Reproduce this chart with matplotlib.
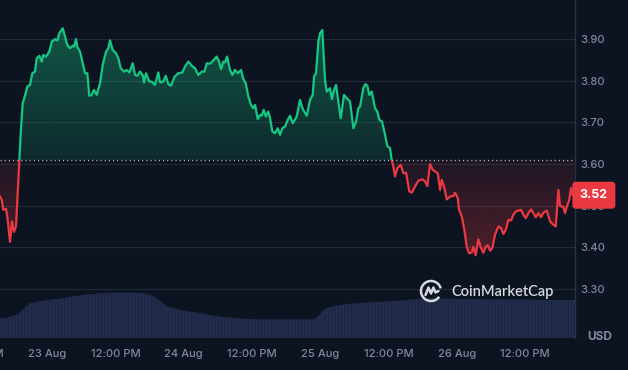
import numpy as np
import matplotlib
matplotlib.use("Agg")
import matplotlib.pyplot as plt
import matplotlib.colors as mcolors
from matplotlib.path import Path
from matplotlib.patches import Rectangle, Arc

plt.rcParams['font.family'] = ['Inter', 'DejaVu Sans']
plt.rcParams['hatch.linewidth'] = 0.6

# hours since 23 Aug 00:00
hours = [-8.26, -7.96, -7.68, -7.20, -6.98, -6.50, -6.15, -5.80, -5.45, -5.04,
         -4.87, -4.62, -4.27, -3.87, -3.46, -2.99, -2.58, -2.11, -1.81, -1.35,
         -0.93, -0.65, -0.18, 0.40, 0.83, 1.41, 1.81, 2.16, 2.76, 3.16,
         3.57, 4.04, 4.52, 4.74, 5.10, 5.32, 5.80, 6.27, 6.68, 7.08,
         7.43, 7.85, 8.26, 8.73, 9.31, 9.79, 10.37, 10.77, 11.07, 11.54,
         12.12, 12.53, 12.95, 13.53, 14.00, 14.46, 15.06, 15.46, 15.87, 16.34,
         16.81, 17.04, 17.39, 17.97, 18.40, 18.98, 19.56, 19.85, 20.43, 20.86,
         21.31, 21.79, 22.37, 23.07, 23.77, 24.25, 24.83, 25.42, 26.00, 26.58,
         27.18, 27.64, 28.06, 28.64, 29.22, 29.82, 30.22, 30.57, 30.98, 31.27,
         31.63, 32.15, 32.56, 33.03, 33.51, 34.09, 34.49, 34.91, 35.37, 35.84,
         36.25, 36.55, 37.02, 37.42, 37.72, 38.07, 38.43, 38.88, 39.18, 39.59,
         40.06, 40.53, 40.94, 41.34, 41.82, 42.29, 42.70, 43.17, 43.87, 44.45,
         44.93, 45.63, 46.21, 46.68, 46.91, 47.26, 47.67, 47.97, 48.37, 48.55,
         48.84, 49.14, 49.72, 50.07, 50.43, 50.78, 51.18, 51.60, 52.18, 52.66,
         53.24, 53.82, 54.29, 54.70, 54.99, 55.57, 55.93, 56.28, 56.63, 57.05,
         57.63, 58.03, 58.39, 58.86, 59.39, 59.79, 60.27, 60.56, 60.85, 61.14,
         61.55, 62.15, 62.60, 63.08, 63.66, 64.08, 64.66, 65.24, 66.01, 66.42,
         66.82, 67.29, 67.77, 68.17, 68.65, 69.05, 69.35, 69.81, 70.23, 70.81,
         71.39, 71.69, 72.16, 72.39, 72.86, 73.32, 73.74, 74.15, 74.62, 74.90,
         75.32, 75.78, 76.25, 76.66, 77.08, 77.43, 77.84, 78.24, 78.71, 79.30,
         79.77, 80.17, 80.60, 81.05, 81.53, 81.93, 82.35, 82.81, 83.28, 83.69,
         84.11, 84.57, 85.04, 85.45, 85.87, 86.33, 86.80, 87.20, 87.80, 88.38,
         88.96, 89.38, 89.84, 90.13, 90.71, 91.01, 91.31, 91.72, 92.07, 92.30,
         92.65]
prices = [3.522, 3.514, 3.490, 3.492, 3.474, 3.413, 3.462, 3.437, 3.450, 3.562,
          3.609, 3.674, 3.746, 3.764, 3.786, 3.790, 3.818, 3.822, 3.854, 3.860,
          3.846, 3.862, 3.858, 3.870, 3.894, 3.900, 3.897, 3.914, 3.926, 3.906,
          3.886, 3.878, 3.884, 3.882, 3.900, 3.882, 3.870, 3.842, 3.818, 3.818,
          3.764, 3.766, 3.778, 3.766, 3.794, 3.838, 3.870, 3.878, 3.897, 3.874,
          3.866, 3.854, 3.830, 3.822, 3.826, 3.820, 3.842, 3.814, 3.812, 3.822,
          3.814, 3.796, 3.818, 3.798, 3.798, 3.790, 3.820, 3.796, 3.798, 3.812,
          3.792, 3.788, 3.809, 3.818, 3.820, 3.834, 3.846, 3.836, 3.830, 3.814,
          3.822, 3.822, 3.842, 3.841, 3.849, 3.858, 3.846, 3.828, 3.846, 3.844,
          3.858, 3.826, 3.814, 3.826, 3.818, 3.826, 3.804, 3.794, 3.762, 3.742,
          3.734, 3.742, 3.708, 3.718, 3.716, 3.730, 3.714, 3.726, 3.710, 3.678,
          3.674, 3.686, 3.670, 3.686, 3.690, 3.706, 3.716, 3.698, 3.714, 3.754,
          3.732, 3.716, 3.754, 3.766, 3.810, 3.818, 3.894, 3.914, 3.922, 3.874,
          3.802, 3.774, 3.782, 3.756, 3.778, 3.790, 3.750, 3.710, 3.766, 3.758,
          3.750, 3.686, 3.702, 3.734, 3.738, 3.782, 3.792, 3.788, 3.766, 3.774,
          3.734, 3.726, 3.706, 3.702, 3.670, 3.643, 3.638, 3.609, 3.594, 3.570,
          3.590, 3.598, 3.578, 3.579, 3.534, 3.531, 3.546, 3.560, 3.563, 3.558,
          3.547, 3.600, 3.586, 3.582, 3.578, 3.538, 3.562, 3.542, 3.515, 3.522,
          3.523, 3.531, 3.518, 3.490, 3.474, 3.442, 3.401, 3.386, 3.387, 3.401,
          3.381, 3.419, 3.398, 3.387, 3.401, 3.405, 3.392, 3.398, 3.430, 3.450,
          3.446, 3.432, 3.442, 3.466, 3.464, 3.478, 3.486, 3.488, 3.490, 3.478,
          3.470, 3.482, 3.491, 3.482, 3.472, 3.482, 3.472, 3.483, 3.488, 3.462,
          3.454, 3.450, 3.538, 3.499, 3.497, 3.482, 3.497, 3.512, 3.542, 3.526,
          3.525]
open_price = 3.609
last_price = 3.525

# volume (relative units), every 2 hours
vol_hours = list(range(-9, 94, 2))
volumes = [19.7, 20, 24, 35, 37, 38.5, 40, 42, 43.5, 44.5, 45.2, 45.3, 45.3,
           45, 41, 32, 28.5, 26.5, 25, 22.5, 21, 20, 19, 18.7, 18.7, 18.7,
           18.7, 18.7, 18.7, 30, 32.5, 34, 35, 35.7, 36.3, 37, 37.8, 39, 39.7,
           39.6, 39.3, 39, 38.8, 38.7, 38.7, 38.6, 38.5, 38.3, 38.1, 38, 38, 38]

price_ticks = [3.30, 3.40, 3.50, 3.60, 3.70, 3.80, 3.90]
x_ticks = [0, 12, 24, 36, 48, 60, 72, 84]
x_labels = ['23 Aug', '12:00 PM', '24 Aug', '12:00 PM', '25 Aug',
            '12:00 PM', '26 Aug', '12:00 PM']

BG = '#0d1421'
GREEN = '#16c784'
RED = '#ea3943'
TXT = '#808a9d'

x = np.array(hours)
p = np.array(prices)
xmin, xmax = -8.26, 92.76
ymin, ymax = 3.182, 3.994

fig = plt.figure(figsize=(6.28, 3.70), dpi=100, facecolor=BG)
vax = fig.add_axes([0, 32 / 370, 575 / 628, 338 / 370])
vax.set_facecolor(BG)
vax.fill_between(vol_hours, volumes, 0, facecolor='#222c4b',
                 edgecolor='#1a2240', hatch='|||||', linewidth=0)
vax.set_xlim(xmin, xmax)
vax.set_ylim(0, 338)
vax.axis('off')

ax = fig.add_axes([0, 32 / 370, 575 / 628, 338 / 370])
ax.patch.set_visible(False)


def gradient_fill(where, color, y_lo, y_hi, a_lo, a_hi):
    poly = ax.fill_between(x, p, open_price, where=where, interpolate=True,
                           facecolor='none', edgecolor='none')
    path = Path.make_compound_path(*poly.get_paths())
    grad = np.zeros((256, 1, 4))
    grad[..., :3] = mcolors.to_rgb(color)
    grad[..., 3] = np.linspace(a_lo, a_hi, 256)[:, None]
    im = ax.imshow(grad, extent=[xmin, xmax, y_lo, y_hi], origin='lower',
                   aspect='auto', zorder=1)
    im.set_clip_path(path, transform=ax.transData)


gradient_fill(p >= open_price, GREEN, open_price, 3.93, 0.12, 0.38)
gradient_fill(p <= open_price, RED, 3.38, open_price, 0.30, 0.08)

# line, green above the opening price and red below it
for color, y0, y1 in [(GREEN, open_price, 5), (RED, 2, open_price)]:
    ln, = ax.plot(x, p, color=color, lw=1.6, zorder=3, solid_joinstyle='round')
    ln.set_clip_path(Rectangle((xmin - 10, y0), xmax - xmin + 20, y1 - y0,
                               transform=ax.transData))

ax.axhline(open_price, color='#b8bcc4', lw=1, ls=(0, (0.8, 2.2)), zorder=4)

ax.set_xlim(xmin, xmax)
ax.set_ylim(ymin, ymax)
ax.set_yticks(price_ticks)
ax.set_yticklabels([f'{v:.2f}' for v in price_ticks])
ax.yaxis.tick_right()
ax.yaxis.grid(True, color='#222a37', lw=0.8)
ax.set_axisbelow(True)
ax.set_xticks(x_ticks)
ax.set_xticklabels(x_labels)
ax.tick_params(axis='both', length=0, colors=TXT, labelsize=8)
ax.tick_params(axis='y', pad=4)
ax.tick_params(axis='x', pad=8)
for lab in ax.get_xticklabels() + ax.get_yticklabels():
    lab.set_fontweight('medium')
for s in ['top', 'left', 'bottom']:
    ax.spines[s].set_visible(False)
ax.spines['right'].set_color('#2a3140')
ax.spines['right'].set_linewidth(1)

# clipped label at the left edge (22 Aug 12:00 PM)
ax.annotate('12:00 PM', xy=(-12, 0), xycoords=('data', 'axes fraction'),
            xytext=(0, -8), textcoords='offset points', ha='center', va='top',
            color=TXT, fontsize=8, fontweight='medium', annotation_clip=False)

# current price badge
ax.annotate(f'{last_price:.2f}', xy=(1, last_price),
            xycoords=('axes fraction', 'data'), xytext=(3.5, 0),
            textcoords='offset points', ha='left', va='center', color='white',
            fontsize=9, fontweight='bold', annotation_clip=False, zorder=10,
            bbox=dict(boxstyle='round,pad=0.6,rounding_size=0.3',
                      fc=RED, ec='none'))

fig.text(600 / 628, 1 - 337 / 370, 'USD', ha='center', va='center',
         color=TXT, fontsize=8.5, fontweight='bold')

# watermark
fig.text(451 / 628, 1 - 292 / 370, 'CoinMarketCap', ha='left', va='center',
         color='#d5d8de', fontsize=10.5, fontweight='semibold',
         family=['Lato', 'DejaVu Sans'], zorder=20)
lax = fig.add_axes([419 / 628, 1 - 303 / 370, 24 / 628, 24 / 370])
lax.set_xlim(-1.2, 1.2)
lax.set_ylim(-1.2, 1.2)
lax.set_aspect('equal')
lax.axis('off')
lax.add_patch(Arc((0, 0), 2, 2, theta1=15, theta2=325, color='#d5d8de', lw=1.8))
lax.plot([-0.55, -0.25, 0.0, 0.25, 0.45, 0.75],
         [-0.4, 0.35, -0.25, 0.35, -0.15, 0.0], color='#d5d8de', lw=1.8,
         solid_joinstyle='round', solid_capstyle='round')

fig.savefig('out.png', dpi=100, facecolor=BG)
